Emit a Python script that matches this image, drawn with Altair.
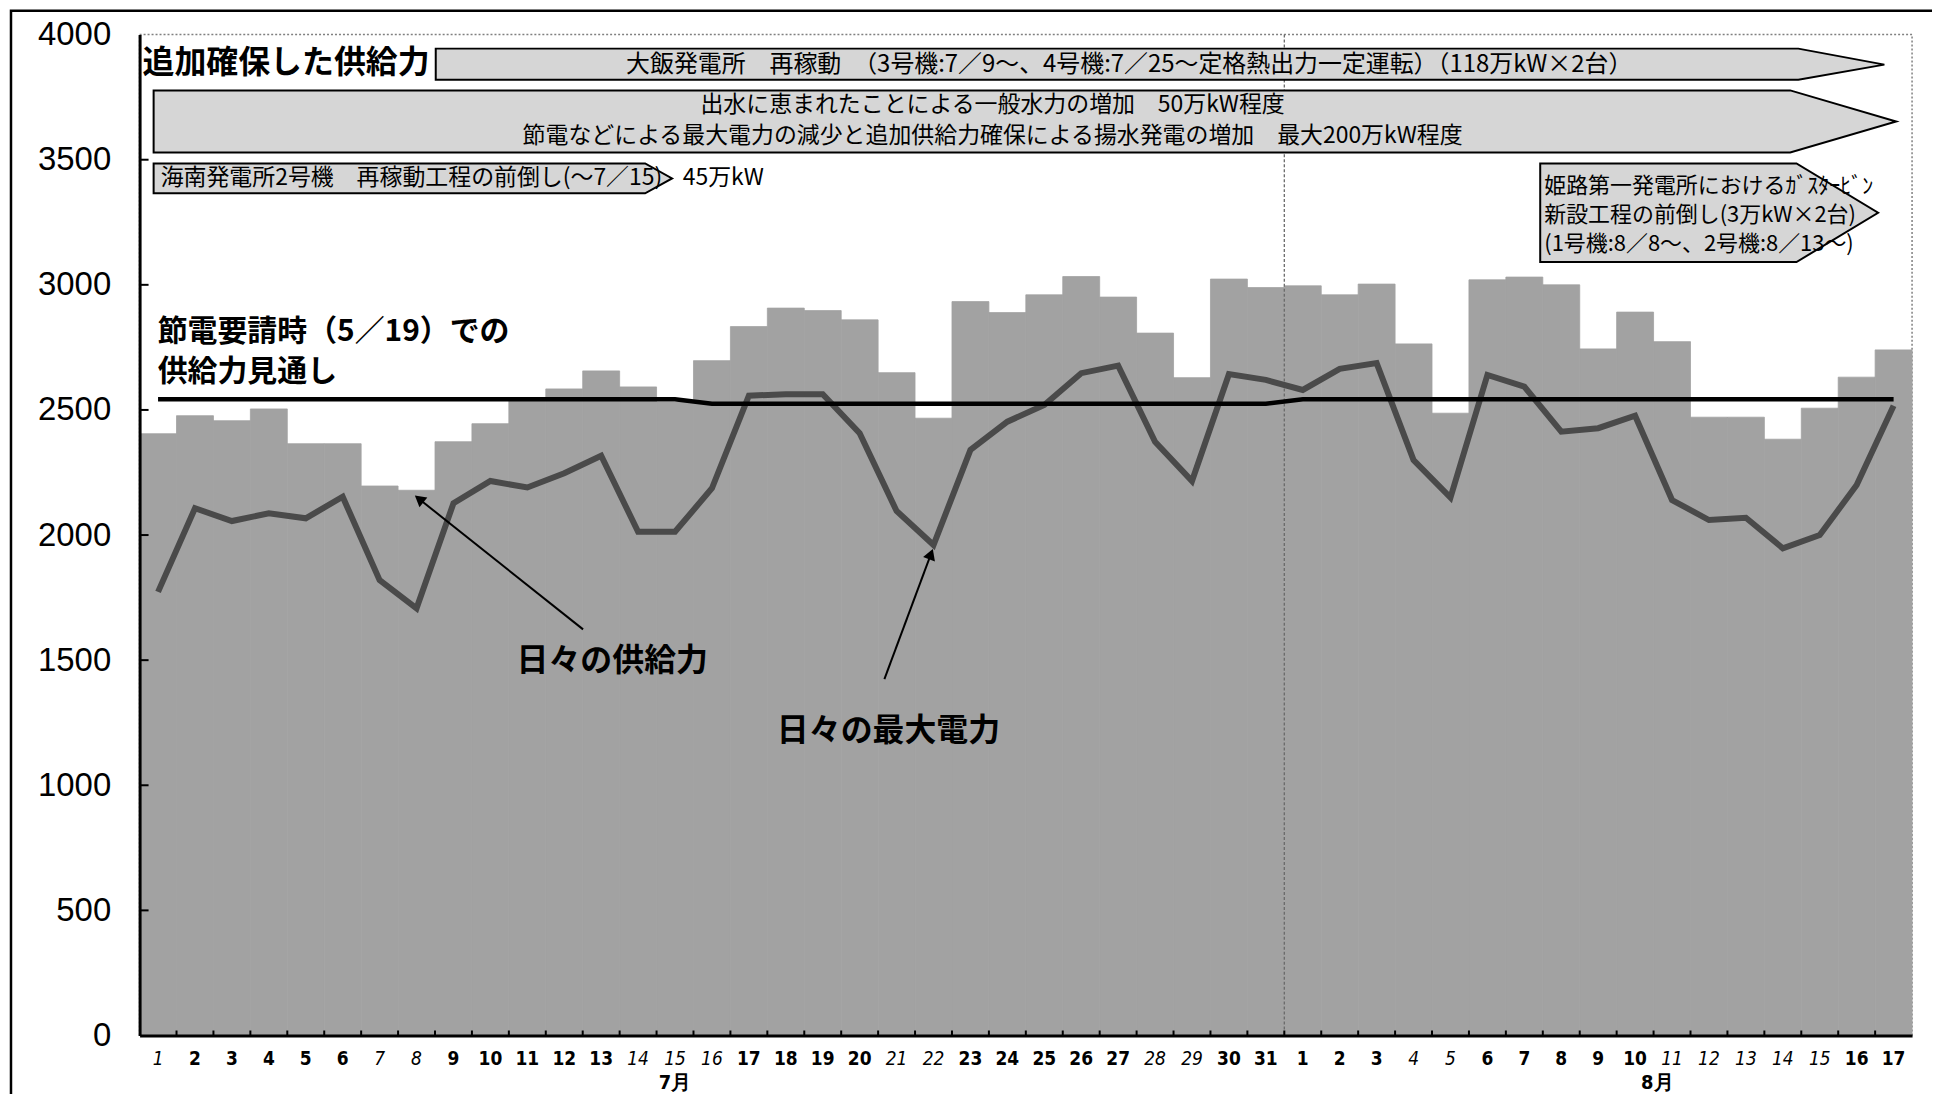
import altair as alt
import pandas as pd

# ---------------- data ----------------
july_days = list(range(1, 32))
aug_days = list(range(1, 18))

supply_july = [2405, 2477, 2457, 2504, 2365, 2365, 2196, 2179, 2373, 2445,
               2538, 2584, 2656, 2592, 2532, 2697, 2833, 2907, 2897, 2860,
               2649, 2467, 2933, 2889, 2960, 3033, 2951, 2807, 2629, 3023, 2989]
supply_aug = [2996, 2960, 3003, 2764, 2487, 3020, 3031, 3000, 2744, 2891,
              2773, 2471, 2471, 2383, 2507, 2631, 2740]

demand_july = [1773, 2107, 2056, 2087, 2067, 2153, 1820, 1707, 2127, 2216,
               2190, 2247, 2317, 2013, 2013, 2187, 2557, 2563, 2563, 2407,
               2096, 1960, 2340, 2453, 2520, 2647, 2677, 2373, 2216, 2643, 2620]
demand_aug = [2580, 2664, 2687, 2300, 2150, 2640, 2593, 2413, 2427, 2477,
              2140, 2060, 2069, 1947, 2000, 2200, 2517]

outlook_july = [2543, 2543, 2543, 2543, 2543, 2543, 2543, 2543, 2543, 2543,
                2543, 2543, 2543, 2543, 2543, 2525, 2525, 2525, 2525, 2525,
                2525, 2525, 2525, 2525, 2525, 2525, 2525, 2525, 2525, 2525, 2525]
outlook_aug = [2543, 2543, 2543, 2543, 2543, 2543, 2543, 2543, 2543, 2543,
               2543, 2543, 2543, 2543, 2543, 2543, 2543]

holidays_july = [1, 7, 8, 14, 15, 16, 21, 22, 28, 29]
holidays_aug = [4, 5, 11, 12, 13, 14, 15]

y_ticks = [0, 500, 1000, 1500, 2000, 2500, 3000, 3500, 4000]
month_labels = ["7月", "8月"]

# ---------------- table ----------------
n_jul = len(july_days)
idx = list(range(1, n_jul + len(aug_days) + 1))
holiday_idx = holidays_july + [n_jul + d for d in holidays_aug]
df = pd.DataFrame({
    "idx": idx,
    "day": july_days + aug_days,
    "supply": supply_july + supply_aug,
    "demand": demand_july + demand_aug,
    "outlook": outlook_july + outlook_aug,
})
df["x0"] = df["idx"] - 0.5
df["x1"] = df["idx"] + 0.5
df["label"] = df["day"].astype(str)
df["holiday"] = df["idx"].isin(holiday_idx)

W, H = 1778, 1004
N = len(idx)
xs = alt.Scale(domain=[0.5, N + 0.5], nice=False, zero=False)
ys = alt.Scale(domain=[0, 4000], nice=False)

BAR = "#a2a2a2"
BOX = "#d6d6d6"
JP = "Noto Sans CJK JP"
NUM = "Liberation Sans"
NARROW = "Liberation Sans Narrow, Arial Narrow, DejaVu Sans Condensed, Liberation Sans, sans-serif"

x_axis = alt.Axis(
    title=None, grid=False, ticks=False, labels=False,
    domainColor="black", domainWidth=3, zindex=2,
)
y_axis = alt.Axis(
    values=y_ticks, title=None, grid=False, ticks=False, format="d",
    labelFont=NUM, labelFontSize=33, labelColor="black", labelPadding=29,
    labelOverlap=False, labelFlush=False,
    domainColor="black", domainWidth=3, zindex=2,
)

def X(field):
    return alt.X(field, scale=xs)

def Y(field):
    return alt.Y(field, scale=ys)

bars = alt.Chart(df).mark_rect(color=BAR, stroke=BAR, strokeWidth=0.8).encode(
    x=alt.X("x0:Q", scale=xs, axis=x_axis),
    x2="x1:Q",
    y=alt.Y("supply:Q", scale=ys, axis=y_axis),
    y2=alt.datum(0),
)

sep = alt.Chart(pd.DataFrame({"b": [n_jul + 0.5]})).mark_rule(
    color="#6a6a6a", strokeWidth=1.3, strokeDash=[3, 2]
).encode(x=X("b:Q"), y=alt.value(0), y2=alt.value(H))

demand = alt.Chart(df).mark_line(color="#4a4a4a", strokeWidth=6).encode(
    x=X("idx:Q"), y=Y("demand:Q"))
outlook = alt.Chart(df).mark_line(color="black", strokeWidth=4.5).encode(
    x=X("idx:Q"), y=Y("outlook:Q"))

# inward ticks
ytick_df = pd.DataFrame({"v": y_ticks[1:-1]})
yticks = alt.Chart(ytick_df).mark_rule(color="black", strokeWidth=2).encode(
    y=Y("v:Q"), x=alt.value(0), x2=alt.value(9))
xtick_df = pd.DataFrame({"b": [i + 0.5 for i in range(1, N)]})
xticks = alt.Chart(xtick_df).mark_rule(color="black", strokeWidth=2).encode(
    x=X("b:Q"), y=alt.value(H), y2=alt.value(H - 5))

# day labels under the axis (weekends / holidays in italic)
day_work = alt.Chart(df).transform_filter("!datum.holiday").mark_text(
    font=NARROW, fontSize=19, fontWeight="bold", baseline="middle", color="black"
).encode(x=X("idx:Q"), y=alt.value(H + 24), text="label:N")
day_hol = alt.Chart(df).transform_filter("datum.holiday").mark_text(
    font=NARROW, fontSize=19, fontStyle="italic", fontWeight="normal",
    baseline="middle", color="black"
).encode(x=X("idx:Q"), y=alt.value(H + 24), text="label:N")

# arrow-shaped annotation boxes (in chart units)
boxes = [
    ("b1", [8.52, 45.42, 47.75], [3944, 3944, 3880], [3820, 3820, 3880]),
    ("b2", [0.88, 45.20, 48.07], [3777, 3777, 3653], [3529, 3529, 3653]),
    ("b3", [0.88, 14.19, 14.92], [3485, 3485, 3425], [3366, 3366, 3425]),
    ("b4", [38.43, 45.37, 47.58], [3485, 3485, 3288], [3091, 3091, 3288]),
]
rows = []
for name, xv, top, bot in boxes:
    for a, t, b in zip(xv, top, bot):
        rows.append({"box": name, "x": a, "top": t, "bot": b})
box_df = pd.DataFrame(rows)
box_layer = alt.Chart(box_df).mark_area(
    fill=BOX, stroke="black", strokeWidth=2, opacity=1, interpolate="linear"
).encode(x=X("x:Q"), y=Y("top:Q"), y2="bot:Q", detail="box:N")

def texts(items, size, weight="normal", align="left", font=JP):
    d = pd.DataFrame(items, columns=["t", "x", "y"])
    return alt.Chart(d).mark_text(
        font=font, fontSize=size, fontWeight=weight, align=align,
        baseline="middle", color="black"
    ).encode(x=X("x:Q"), y=Y("y:Q"), text="t:N")

title_text = texts([("追加確保した供給力", 0.58, 3888)], 32, "bold")
outlook_text = texts([
    ("節電要請時（5／19）での", 0.99, 2812),
    ("供給力見通し", 0.99, 2652),
], 30, "bold")
big_center = texts([
    ("日々の供給力", 13.3, 1496),
    ("日々の最大電力", 20.78, 1216),
], 32, "bold", "center")
box1_text = texts([
    ("大飯発電所　再稼動　（3号機:7／9～、4号機:7／25～定格熱出力一定運転）（118万kW×2台）", 27.3, 3878),
], 24, "normal", "center")
box2_text = texts([
    ("出水に恵まれたことによる一般水力の増加　50万kW程度", 23.6, 3718),
    ("節電などによる最大電力の減少と追加供給力確保による揚水発電の増加　最大200万kW程度", 23.6, 3594),
], 23, "normal", "center")
box_left = texts([
    ("海南発電所2号機　再稼動工程の前倒し(～7／15)", 1.07, 3426),
    ("45万kW", 15.21, 3426),
], 23, "normal", "left")
box4_text = texts([
    ("姫路第一発電所におけるｶﾞｽﾀｰﾋﾞﾝ", 38.54, 3396),
    ("新設工程の前倒し(3万kW×2台)", 38.54, 3280),
    ("(1号機:8／8～、2号機:8／13～)", 38.54, 3164),
], 22, "normal", "left")

# pointer arrows
arrows = pd.DataFrame([
    {"x": 12.51, "y": 1623, "x2": 8.07, "y2": 2144},
    {"x": 20.67, "y": 1424, "x2": 21.93, "y2": 1924},
])
arrow_lines = alt.Chart(arrows).mark_rule(color="black", strokeWidth=2).encode(
    x=X("x:Q"), y=Y("y:Q"), x2="x2:Q", y2="y2:Q")
heads = pd.DataFrame([
    {"x": 8.07, "y": 2144, "a": 308.5},
    {"x": 21.93, "y": 1924, "a": 20.4},
])
arrow_heads = alt.Chart(heads).mark_point(
    shape="triangle-up", filled=True, color="black", size=160, opacity=1
).encode(x=X("x:Q"), y=Y("y:Q"), angle=alt.Angle("a:Q", scale=None))

# month labels below the axis
mdf = pd.DataFrame({"t": month_labels, "x": [15, n_jul + 10.6]})
months = alt.Chart(mdf).mark_text(
    font=NARROW, fontSize=20, fontWeight="bold", baseline="middle", color="black"
).encode(x=X("x:Q"), y=alt.value(H + 48), text="t:N")

frame = alt.Chart(pd.DataFrame({"k": [0]})).mark_rect(
    fill=None, stroke="black", strokeWidth=2.5
).encode(x=alt.value(-129), x2=alt.value(W + 60), y=alt.value(-24), y2=alt.value(H + 200))

chart = alt.layer(
    frame, bars, sep, yticks, xticks, demand, outlook, box_layer,
    title_text, outlook_text, big_center, box1_text, box2_text, box_left, box4_text,
    arrow_lines, arrow_heads, day_work, day_hol, months,
).properties(
    width=W, height=H,
    padding={"left": 132, "top": 25, "right": 20, "bottom": 57},
    autosize=alt.AutoSizeParams(type="none"),
    background="white",
).configure_view(
    stroke="#808080", strokeWidth=1.5, strokeDash=[2, 2]
)

chart.save("out.html", embed_options={"renderer": "svg", "actions": False})
